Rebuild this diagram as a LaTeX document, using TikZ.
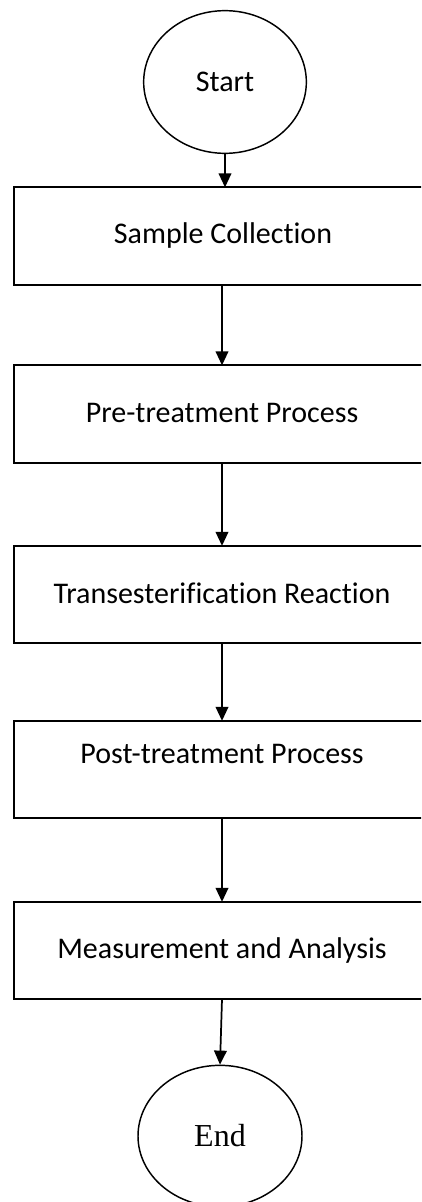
\documentclass[tikz,border=0pt]{standalone}
\usepackage{fontspec}
\setmainfont{Carlito}[Ligatures=NoCommon]
\newfontfamily\serifend{Liberation Serif}
\usetikzlibrary{arrows.meta,shapes.geometric}

\tikzset{every picture/.style={line width=1.3pt}}
\tikzset{
  procbox/.style={draw, rectangle, line width=1.4pt, inner sep=0pt, outer sep=0pt, minimum width=312pt, minimum height=73pt},
  termnode/.style={draw, ellipse, line width=1.1pt, inner sep=0pt, minimum width=122pt, minimum height=107pt},
  boxtext/.style={inner sep=0.75pt, font=\fontsize{22.5}{27}\selectfont},
  flowarrow/.style={-{Triangle[length=10.5pt,width=9.5pt]}}
}

\begin{document}
\begin{tikzpicture}[x=0.75pt,y=0.75pt,yscale=-1,xscale=1]
            \useasboundingbox (0,0) rectangle (421,1202);
            \clip (0,0) rectangle (421,1202);

            %Shape: Ellipse [id:start]
            \node [termnode] (start) at (225,82) {};
            % Text Node
            \node [boxtext] (starttxt) at (225,82) {Start};

            %Shape: Rectangle [id:sample]
            \node [procbox] (sample) at (222,236) {};
            \node [boxtext] (sampletxt) at (223,236) {Sample Collection};

            %Shape: Rectangle [id:pretreat]
            \node [procbox] (pretreat) at (222,414) {};
            \node [boxtext] (pretreattxt) at (222,413) {Pre-treatment Process};

            %Shape: Rectangle [id:transest]
            \node [procbox] (transest) at (222,594.5) {};
            \node [boxtext] (transesttxt) at (222,593) {Transesterification Reaction};

            %Shape: Rectangle [id:posttreat]
            \node [procbox] (posttreat) at (222,769.5) {};
            \node [boxtext] (posttreattxt) at (222,754) {Post-treatment Process};

            %Shape: Rectangle [id:measure]
            \node [procbox] (measure) at (222,950.5) {};
            \node [boxtext] (measuretxt) at (222,950) {Measurement and Analysis};

            %Shape: Ellipse [id:end]
            \node [termnode, minimum width=123pt, minimum height=106pt] (end) at (220,1136) {};
            \node [inner sep=0.75pt, font=\serifend\fontsize{24}{28}\selectfont] (endtxt) at (220,1136) {End};

            %Straight Lines
            \draw [flowarrow] (start.south) -- (sample.north -| start.south);
            \draw [flowarrow] (sample.south) -- (pretreat.north);
            \draw [flowarrow] (pretreat.south) -- (transest.north);
            \draw [flowarrow] (transest.south) -- (posttreat.north);
            \draw [flowarrow] (posttreat.south) -- (measure.north);
            \draw [flowarrow] (measure.south) -- (end.north);

        \end{tikzpicture}
\end{document}
